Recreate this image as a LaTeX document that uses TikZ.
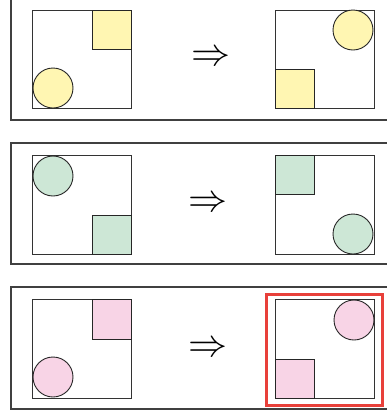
\documentclass[tikz,border=0pt]{standalone}
\begin{document}
\begin{tikzpicture}[x=1pt,y=-1pt,
  frame/.style={draw=black!75,line width=1.1pt},
  box/.style={draw=black!80,line width=1pt},
  shp/.style={draw=black!85,line width=0.9pt},
  arr/.style={inner sep=0pt}]
\definecolor{yel}{HTML}{FFF6B2}
\definecolor{grn}{HTML}{CDE7D6}
\definecolor{pnk}{HTML}{F8D4E6}
\definecolor{redf}{HTML}{E8403A}
\useasboundingbox (0,0) rectangle (387,413);
\begin{scope}
\clip (0,0) rectangle (387,413);
% frames
\draw[frame] (11,-5) rectangle (400,120);
\draw[frame] (11,143) rectangle (400,264);
\draw[frame] (11,287) rectangle (400,409);
% panel 1
\draw[box] (32,10) rectangle (131,108);
\draw[shp,fill=yel] (92,10) rectangle (131,49);
\draw[shp,fill=yel] (53,88) circle (20);
\node[arr] (a1) at (211,58) {\scalebox{3.9}{$\Rightarrow$}};
\draw[box] (275,10) rectangle (374,108);
\draw[shp,fill=yel] (353,30) circle (20);
\draw[shp,fill=yel] (275,69) rectangle (314,108);
% panel 2
\draw[box] (32,155) rectangle (131,254);
\draw[shp,fill=grn] (53,176) circle (20);
\draw[shp,fill=grn] (92,215) rectangle (131,254);
\node[arr] (a2) at (208,204) {\scalebox{3.9}{$\Rightarrow$}};
\draw[box] (275,155) rectangle (374,254);
\draw[shp,fill=grn] (275,155) rectangle (314,194);
\draw[shp,fill=grn] (353,234) circle (20);
% panel 3
\draw[box] (32,299) rectangle (131,398);
\draw[shp,fill=pnk] (92,299) rectangle (131,339);
\draw[shp,fill=pnk] (53,377) circle (20);
\node[arr] (a3) at (208,349) {\scalebox{3.9}{$\Rightarrow$}};
\draw[box] (275,299) rectangle (374,398);
\draw[shp,fill=pnk] (354,320) circle (20);
\draw[shp,fill=pnk] (275,359) rectangle (314,398);
\draw[draw=redf,line width=3pt] (266,294) rectangle (382,405);
\end{scope}
\end{tikzpicture}
\end{document}
